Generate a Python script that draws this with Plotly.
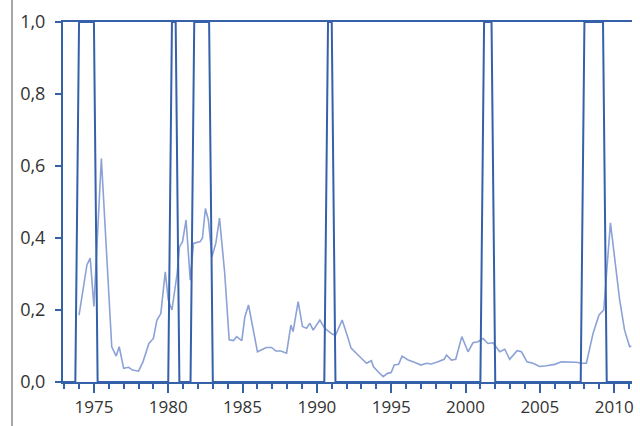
import plotly.graph_objects as go

# Probability series
prob_year = [1974.0, 1974.53, 1974.75, 1975.0, 1975.5, 1976.2, 1976.5, 1976.7, 1977.0, 1977.33,
             1977.6, 1978.0, 1978.3, 1978.7, 1979.0, 1979.24, 1979.5, 1979.8, 1980.0, 1980.25,
             1980.6, 1980.76, 1980.96, 1981.2, 1981.48, 1981.7, 1982.15, 1982.3, 1982.5, 1982.7,
             1982.94, 1983.2, 1983.45, 1983.8, 1984.1, 1984.4, 1984.6, 1984.95, 1985.15, 1985.4,
             1986.0, 1986.3, 1986.6, 1986.95, 1987.24, 1987.58, 1987.96, 1988.25, 1988.4, 1988.74,
             1989.03, 1989.3, 1989.53, 1989.75, 1990.2, 1990.53, 1991.03, 1991.25, 1991.7, 1992.0,
             1992.3, 1992.77, 1993.34, 1993.67, 1993.8, 1994.1, 1994.46, 1994.75, 1995.0, 1995.2,
             1995.5, 1995.73, 1996.14, 1996.6, 1997.0, 1997.37, 1997.7, 1998.15, 1998.56, 1998.72,
             1999.05, 1999.34, 1999.75, 2000.17, 2000.5, 2000.84, 2001.18, 2001.5, 2001.85, 2002.3,
             2002.64, 2002.97, 2003.47, 2003.76, 2004.14, 2004.54, 2004.99, 2005.44, 2006.0, 2006.45,
             2006.9, 2007.46, 2007.8, 2008.13, 2008.58, 2008.98, 2009.3, 2009.75, 2010.37, 2010.7,
             2011.04, 2011.15]
prob_value = [0.186, 0.325, 0.344, 0.21, 0.621, 0.098, 0.072, 0.098, 0.038, 0.041,
              0.033, 0.03, 0.056, 0.107, 0.121, 0.172, 0.19, 0.306, 0.228, 0.2,
              0.302, 0.376, 0.39, 0.45, 0.283, 0.385, 0.39, 0.4, 0.482, 0.45,
              0.348, 0.385, 0.455, 0.302, 0.117, 0.115, 0.126, 0.115, 0.18, 0.214,
              0.084, 0.089, 0.096, 0.096, 0.086, 0.086, 0.08, 0.158, 0.14, 0.223,
              0.154, 0.149, 0.163, 0.144, 0.172, 0.149, 0.133, 0.13, 0.172, 0.135,
              0.094, 0.075, 0.052, 0.059, 0.043, 0.029, 0.015, 0.024, 0.026, 0.047,
              0.049, 0.072, 0.061, 0.054, 0.047, 0.052, 0.05, 0.056, 0.063, 0.075,
              0.061, 0.063, 0.126, 0.084, 0.109, 0.112, 0.121, 0.107, 0.109, 0.084,
              0.091, 0.063, 0.087, 0.084, 0.056, 0.052, 0.043, 0.045, 0.049, 0.056,
              0.055, 0.055, 0.052, 0.052, 0.135, 0.186, 0.2, 0.442, 0.228, 0.144,
              0.098, 0.1]

# Recession indicator (0/1, quarterly turning points)
rec_year = [1972.92, 1973.75, 1974.0, 1975.0, 1975.25, 1980.0, 1980.25, 1980.5, 1980.75,
            1981.5, 1981.75, 1982.75, 1983.0, 1990.5, 1990.75, 1991.0, 1991.25,
            2001.0, 2001.25, 2001.75, 2002.0, 2007.75, 2008.0, 2009.25, 2009.5, 2011.2]
rec_value = [0, 0, 1, 1, 0, 0, 1, 1, 0,
             0, 1, 1, 0, 0, 1, 1, 0,
             0, 1, 1, 0, 0, 1, 1, 0, 0]

x_range = [1972.92, 2011.2]
y_ticks = [0.0, 0.2, 0.4, 0.6, 0.8, 1.0]

DARK = "#3560AA"
LIGHT = "#8CA2D6"
TXT = "#333333"

fig = go.Figure()
fig.add_trace(go.Scatter(x=prob_year, y=prob_value, mode="lines",
                         line=dict(color=LIGHT, width=1.6), hoverinfo="skip"))
fig.add_trace(go.Scatter(x=rec_year, y=rec_value, mode="lines",
                         line=dict(color=DARK, width=2), hoverinfo="skip"))

fig.add_shape(type="line", xref="paper", yref="paper", x0=-0.0896, x1=-0.0896,
              y0=-0.13, y1=1.07, line=dict(color="#8a8a8a", width=1.5))

fig.update_layout(
    width=640, height=426,
    margin=dict(l=63, r=8, t=22, b=44),
    paper_bgcolor="white", plot_bgcolor="white",
    showlegend=False,
    separators=", ",
    font=dict(family="Open Sans", size=17, color=TXT),
)
fig.update_xaxes(
    range=x_range, showgrid=False, zeroline=False, automargin=False,
    showline=True, linecolor=DARK, linewidth=2, mirror=True,
    ticks="outside", tick0=1975, dtick=5, ticklen=9, tickwidth=1.5, tickcolor=DARK,
    minor=dict(dtick=1, tick0=1975, ticks="outside", ticklen=5, tickwidth=1.5, tickcolor=DARK, showgrid=False),
    tickfont=dict(size=17, color=TXT),
)
fig.update_yaxes(
    range=[0, 1], showgrid=False, zeroline=False, automargin=False,
    showline=True, linecolor=DARK, linewidth=2,
    ticks="outside", tickvals=y_ticks, ticklen=6, tickwidth=1.5, tickcolor=DARK,
    tickformat=".1f", ticklabelstandoff=6,
    tickfont=dict(size=18, color=TXT),
)

fig.write_html("out.html", config={"displayModeBar": False},
               post_script="document.body.style.margin='0';document.body.style.overflow='hidden';")
